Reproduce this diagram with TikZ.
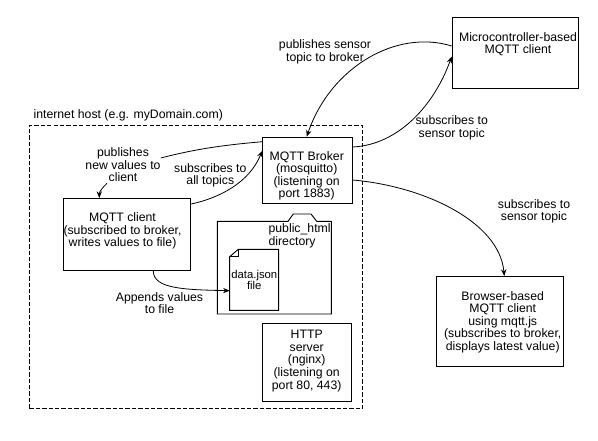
\documentclass[tikz,border=0pt]{standalone}
\usepackage{fontspec}
\setmainfont{Liberation Sans}
\usepackage{tikz}
\usetikzlibrary{arrows.meta,calc}

\tikzset{
  px/.style={x=0.75pt, y=-0.75pt},
  box/.style={draw, line width=0.7pt, inner sep=0pt, anchor=north west},
  lbl/.style={align=center, inner sep=0pt},
  flow/.style={line width=0.6pt, -{Stealth[length=5pt, width=4pt]}},
  plainflow/.style={line width=0.6pt},
}

\begin{document}
\begin{tikzpicture}[px, font=\fontsize{9.2}{9.4}\selectfont]
  \useasboundingbox (0,0) rectangle (598,441);

  % host
  \node[box, dash pattern=on 3.2pt off 1.6pt, minimum width=250pt, minimum height=212.5pt] (host) at (29,125) {};
  \node[lbl, anchor=west] (hostlabel) at (33.3,115.5) {internet host (e.g. myDomain.com)};

  % boxes
  \node[box, minimum width=67pt, minimum height=50pt] (broker) at (262.3,136.7) {};
  \node[lbl] (brokertext) at (306.7,176) {MQTT Broker\\(mosquitto)\\(listening on\\port 1883)};
  \node[box, minimum width=95pt, minimum height=53.25pt] (micro) at (451.7,17) {};
  \node[lbl] (microtext) at (518,44) {Microcontroller-based\\MQTT client};
  \node[box, minimum width=95.25pt, minimum height=54pt] (client) at (63.3,198) {};
  \node[lbl] (clienttext) at (122.5,231) {MQTT client\\(subscribed to broker,\\writes values to file)};
  \node[box, minimum width=66.5pt, minimum height=58.5pt] (http) at (262.3,322.5) {};
  \node[lbl] (httptext) at (306.7,361) {HTTP\\server\\(nginx)\\(listening on\\port 80, 443)};
  \node[box, minimum width=95.25pt, minimum height=67.5pt] (browser) at (436,276) {};
  \node[lbl] (browsertext) at (502.7,322) {Browser-based\\MQTT client\\using mqtt.js\\(subscribes to broker,\\displays latest value)};

  % directory
  \draw[line width=0.7pt] (217.3,314) -- (217.3,221.3) -- (288,221.3) -- (293.3,214) -- (311,214) -- (316.7,221.3) -- (331.3,221.3) -- (331.3,314) -- cycle;
  \node[lbl, align=left, anchor=north west] (dirtext) at (268.3,223.5) {public\_html\\directory};

  % file
  \draw[line width=0.7pt] (229.7,256.7) -- (238.3,249.3) -- (278.7,249.3) -- (278.7,310.3) -- (229.7,310.3) -- cycle;
  \draw[line width=0.5pt] (229.7,256.7) -- (238.3,256.7) -- (238.3,249.3);
  \coordinate (filein) at (229.7,290.7);
  \node[lbl, font=\fontsize{8.5}{8.8}\selectfont] (filetext) at (254.3,280) {data.json\\file};

  % labels
  \node[lbl] (pubnew) at (123,165) {publishes\\new values to\\client};
  \node[lbl] (suball) at (210.3,175.5) {subscribes to\\all topics};
  \node[lbl] (append) at (159.5,303) {Appends values\\to file};
  \node[lbl] (pubsensor) at (325,52) {publishes sensor\\topic to broker};
  \node[lbl] (subsensor) at (451.7,128) {subscribes to\\sensor topic};
  \node[lbl] (subsensortwo) at (534,211.5) {subscribes to\\sensor topic};

  % connectors
  \draw[plainflow] ($(broker.north west)+(0,5)$) .. controls +(-40,3.5) and +(35,-9) .. ($(pubnew.east)+(0,-7)$);
  \draw[flow] ($(pubnew.south)+(-16,1)$) .. controls +(-3,3) and +(0,-7) .. ($(client.north west)+(36,0)$);
  \draw[flow] ($(client.north east)+(0,6)$) .. controls +(28,-6) and +(-13,32) .. ($(broker.north west)+(0,14)$);
  \draw[flow] ($(client.south west)+(90,0)$) .. controls +(0,18) and +(-45,-1) .. (filein);
  \draw[flow] ($(micro.north west)+(0,29)$) .. controls +(-55,-17) and +(24,-70) .. ($(broker.north west)+(44.4,0)$);
  \draw[flow] ($(broker.north east)+(0,10.3)$) .. controls +(45,-2) and +(-18,50) .. ($(micro.north west)+(0,39.5)$);
  \draw[flow] ($(broker.north east)+(0,43.3)$) .. controls +(70,6) and +(-5,-55) .. ($(browser.north west)+(68.3,0)$);
\end{tikzpicture}
\end{document}
